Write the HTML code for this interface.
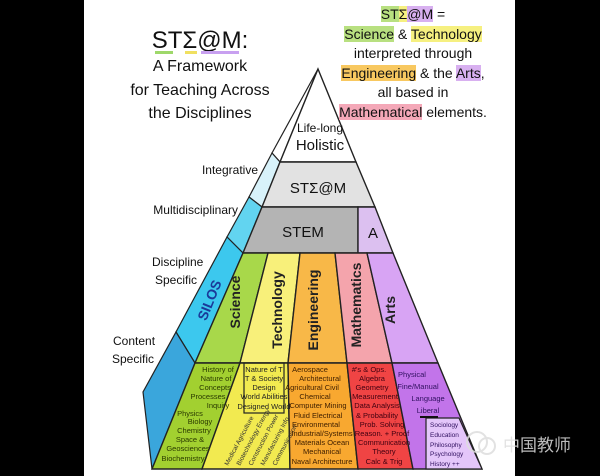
<!DOCTYPE html>
<html><head><meta charset="utf-8"><style>
html,body{margin:0;padding:0;background:#000;}
svg{display:block;position:absolute;left:0;top:0;}
text{font-family:"Liberation Sans","Noto Sans CJK SC",sans-serif;}
.rt{position:absolute;left:330px;top:5px;width:166px;text-align:center;font-family:"Liberation Sans",sans-serif;font-size:14px;line-height:19.6px;color:#111;}
.g{background:#b8e080}.y{background:#f6f080}.o{background:#f8c860}.p{background:#d8b0f0}.r{background:#f4a8b8}
</style></head><body>
<svg width="600" height="476" viewBox="0 0 600 476" xmlns="http://www.w3.org/2000/svg">
<rect x="0" y="0" width="600" height="476" fill="#000"/>
<rect x="84" y="0" width="431" height="476" fill="#fff"/>

<!-- left strip -->
<polygon points="318,69 272,153 280,162" fill="#fff" stroke="#222" stroke-width="1.2"/>
<polygon points="272,153 280,162 262,207 249,197" fill="#d8f2fa" stroke="#222" stroke-width="1.2"/>
<polygon points="249,197 262,207 243,253 227,237" fill="#62d4f0" stroke="#222" stroke-width="1.2"/>
<polygon points="227,237 243,253 195,363 176,332" fill="#3cc8ee" stroke="#222" stroke-width="1.2"/>
<polygon points="176,332 195,363 152,469 143,392" fill="#3aa6dc" stroke="#222" stroke-width="1.2"/>

<!-- top bands -->
<polygon points="318,69 356,162 280,162" fill="#fff" stroke="#222" stroke-width="1.4"/>
<polygon points="280,162 356,162 375,207 262,207" fill="#e2e2e2" stroke="#222" stroke-width="1.4"/>
<polygon points="262,207 358,207 358,253 243,253" fill="#b4b4b4" stroke="#222" stroke-width="1.4"/>
<polygon points="358,207 375,207 393,253 367,253 358,253" fill="#dcc0f0" stroke="#222" stroke-width="1.4"/>

<!-- discipline columns -->
<polygon points="243,253 268,253 240,363 195,363" fill="#a8d84a" stroke="#222" stroke-width="1.4"/>
<polygon points="268,253 300,253 288,363 240,363" fill="#f8f07a" stroke="#222" stroke-width="1.4"/>
<polygon points="300,253 335,253 347,363 288,363" fill="#f8b848" stroke="#222" stroke-width="1.4"/>
<polygon points="335,253 367,253 392,363 347,363" fill="#f4a4ac" stroke="#222" stroke-width="1.4"/>
<polygon points="367,253 393,253 438,363 392,363" fill="#d8a4f4" stroke="#222" stroke-width="1.4"/>

<!-- bottom cells -->
<polygon points="195,363 240,363 202,469 152,469" fill="#a2d030" stroke="#222" stroke-width="1.4"/>
<polygon points="240,363 288,363 290,469 202,469" fill="#f2ea50" stroke="#222" stroke-width="1.4"/>
<polygon points="288,363 347,363 358,469 290,469" fill="#f8a830" stroke="#222" stroke-width="1.4"/>
<polygon points="347,363 392,363 413,469 358,469" fill="#f04444" stroke="#222" stroke-width="1.4"/>
<polygon points="392,363 438,363 482,469 413,469" fill="#c274ea" stroke="#222" stroke-width="1.4"/>
<polygon points="426,418 459,418 482,469 426,469" fill="#e4c6fa" stroke="#222" stroke-width="1.2"/>
<rect x="244" y="363" width="40" height="50" fill="none" stroke="#222" stroke-width="1.2"/>
<line x1="420" y1="417" x2="438" y2="417" stroke="#111" stroke-width="2"/>

<!-- titles -->
<text x="200" y="48" font-size="24" text-anchor="middle" fill="#111">STΣ@M:</text>
<rect x="155" y="51" width="18" height="3" fill="#9ed86a"/><rect x="185" y="51" width="12" height="3" fill="#f0e060"/><rect x="201" y="51" width="38" height="3" fill="#c8a0f0"/>
<g font-size="16" text-anchor="middle" fill="#111">
<text x="200" y="71">A Framework</text>
<text x="200" y="95">for Teaching Across</text>
<text x="200" y="118">the Disciplines</text>
</g>

<!-- side labels -->
<g font-size="12" fill="#111">
<text x="258" y="174" text-anchor="end">Integrative</text>
<text x="238" y="214" text-anchor="end">Multidisciplinary</text>
<text x="152" y="266">Discipline</text>
<text x="155" y="284">Specific</text>
<text x="113" y="345">Content</text>
<text x="112" y="363">Specific</text>
</g>
<g font-size="15" text-anchor="middle" fill="#111">
<text x="320" y="132" font-size="12">Life-long</text>
<text x="320" y="150">Holistic</text>
<text x="318" y="193">STΣ@M</text>
<text x="303" y="237">STEM</text>
<text x="373" y="238">A</text>
</g>
<g font-size="14" font-weight="bold" fill="#222" text-anchor="middle">
<text transform="translate(214,302) rotate(-68)" fill="#1a3a9a">SILOS</text>
<text transform="translate(240,302) rotate(-90)">Science</text>
<text transform="translate(282,310) rotate(-90)">Technology</text>
<text transform="translate(318,310) rotate(-90)">Engineering</text>
<text transform="translate(361,305) rotate(-90)">Mathematics</text>
<text transform="translate(395,310) rotate(-90)">Arts</text>
</g>

<!-- bottom text -->
<g font-size="7.5" fill="#2a3a00" text-anchor="middle">
<text x="218" y="372">History of</text><text x="216" y="381">Nature of</text><text x="215" y="390">Concepts</text>
<text x="208" y="399">Processes</text><text x="218" y="408">Inquiry</text><text x="190" y="416">Physics</text>
<text x="200" y="424">Biology</text><text x="194" y="433">Chemistry</text><text x="190" y="442">Space &amp;</text>
<text x="188" y="451">Geosciences</text><text x="183" y="461">Biochemistry</text>
</g>
<g font-size="7.5" fill="#222" text-anchor="middle">
<text x="264" y="372">Nature of T</text><text x="264" y="381">T &amp; Society</text><text x="264" y="390">Design</text>
<text x="264" y="399">World Abilities</text><text x="264" y="409">Designed World</text>
</g>
<g font-size="6.5" fill="#333">
<text transform="translate(228,466) rotate(-62)">Medical Agriculture</text>
<text transform="translate(240,466) rotate(-62)">Biotechnology Energy</text>
<text transform="translate(252,466) rotate(-62)">Construction Power</text>
<text transform="translate(264,466) rotate(-62)">Manufacturing Info</text>
<text transform="translate(276,466) rotate(-62)">Communication</text>
</g>
<g font-size="7.5" fill="#402000" text-anchor="middle">
<text x="310" y="372">Aerospace</text><text x="320" y="381">Architectural</text><text x="312" y="390">Agricultural Civil</text>
<text x="315" y="399">Chemical</text><text x="318" y="408">Computer Mining</text><text x="318" y="418">Fluid Electrical</text>
<text x="316" y="427">Environmental</text><text x="322" y="436">Industrial/Systems</text><text x="322" y="445">Materials Ocean</text>
<text x="322" y="454">Mechanical</text><text x="322" y="464">Naval Architecture</text>
</g>
<g font-size="7.5" fill="#400010" text-anchor="middle">
<text x="369" y="372">#'s &amp; Ops.</text><text x="372" y="381">Algebra</text><text x="372" y="390">Geometry</text>
<text x="375" y="399">Measurement</text><text x="377" y="408">Data Analysis</text><text x="377" y="418">&amp; Probability</text>
<text x="382" y="427">Prob. Solving</text><text x="382" y="436">Reason. + Proof</text><text x="384" y="445">Communication</text>
<text x="384" y="454">Theory</text><text x="384" y="464">Calc &amp; Trig</text>
</g>
<g font-size="7.5" fill="#301060" text-anchor="middle">
<text x="412" y="377">Physical</text><text x="418" y="389">Fine/Manual</text><text x="428" y="401">Language</text><text x="428" y="413">Liberal</text>
</g>
<g font-size="6.5" fill="#301060">
<text x="430" y="427">Sociology</text><text x="430" y="437">Education</text><text x="430" y="447">Philosophy</text>
<text x="430" y="456">Psychology</text><text x="430" y="466">History ++</text>
</g>

<!-- watermark -->
<g opacity="0.85">
<circle cx="477" cy="442" r="10" fill="none" stroke="#ddd" stroke-width="2"/>
<circle cx="487" cy="446" r="8" fill="none" stroke="#ddd" stroke-width="2"/>
<text x="503" y="451" font-size="17" fill="#ddd">中国教师</text>
</g>
</svg>
<div class="rt">
<span class="g">ST</span><span class="y">Σ</span><span class="p">@M</span> =<br>
<span class="g">Science</span> &amp; <span class="y">Technology</span><br>
interpreted through<br>
<span class="o">Engineering</span> &amp; the <span class="p">Arts</span>,<br>
all based in<br>
<span class="r">Mathematical</span> elements.
</div>
</body></html>
